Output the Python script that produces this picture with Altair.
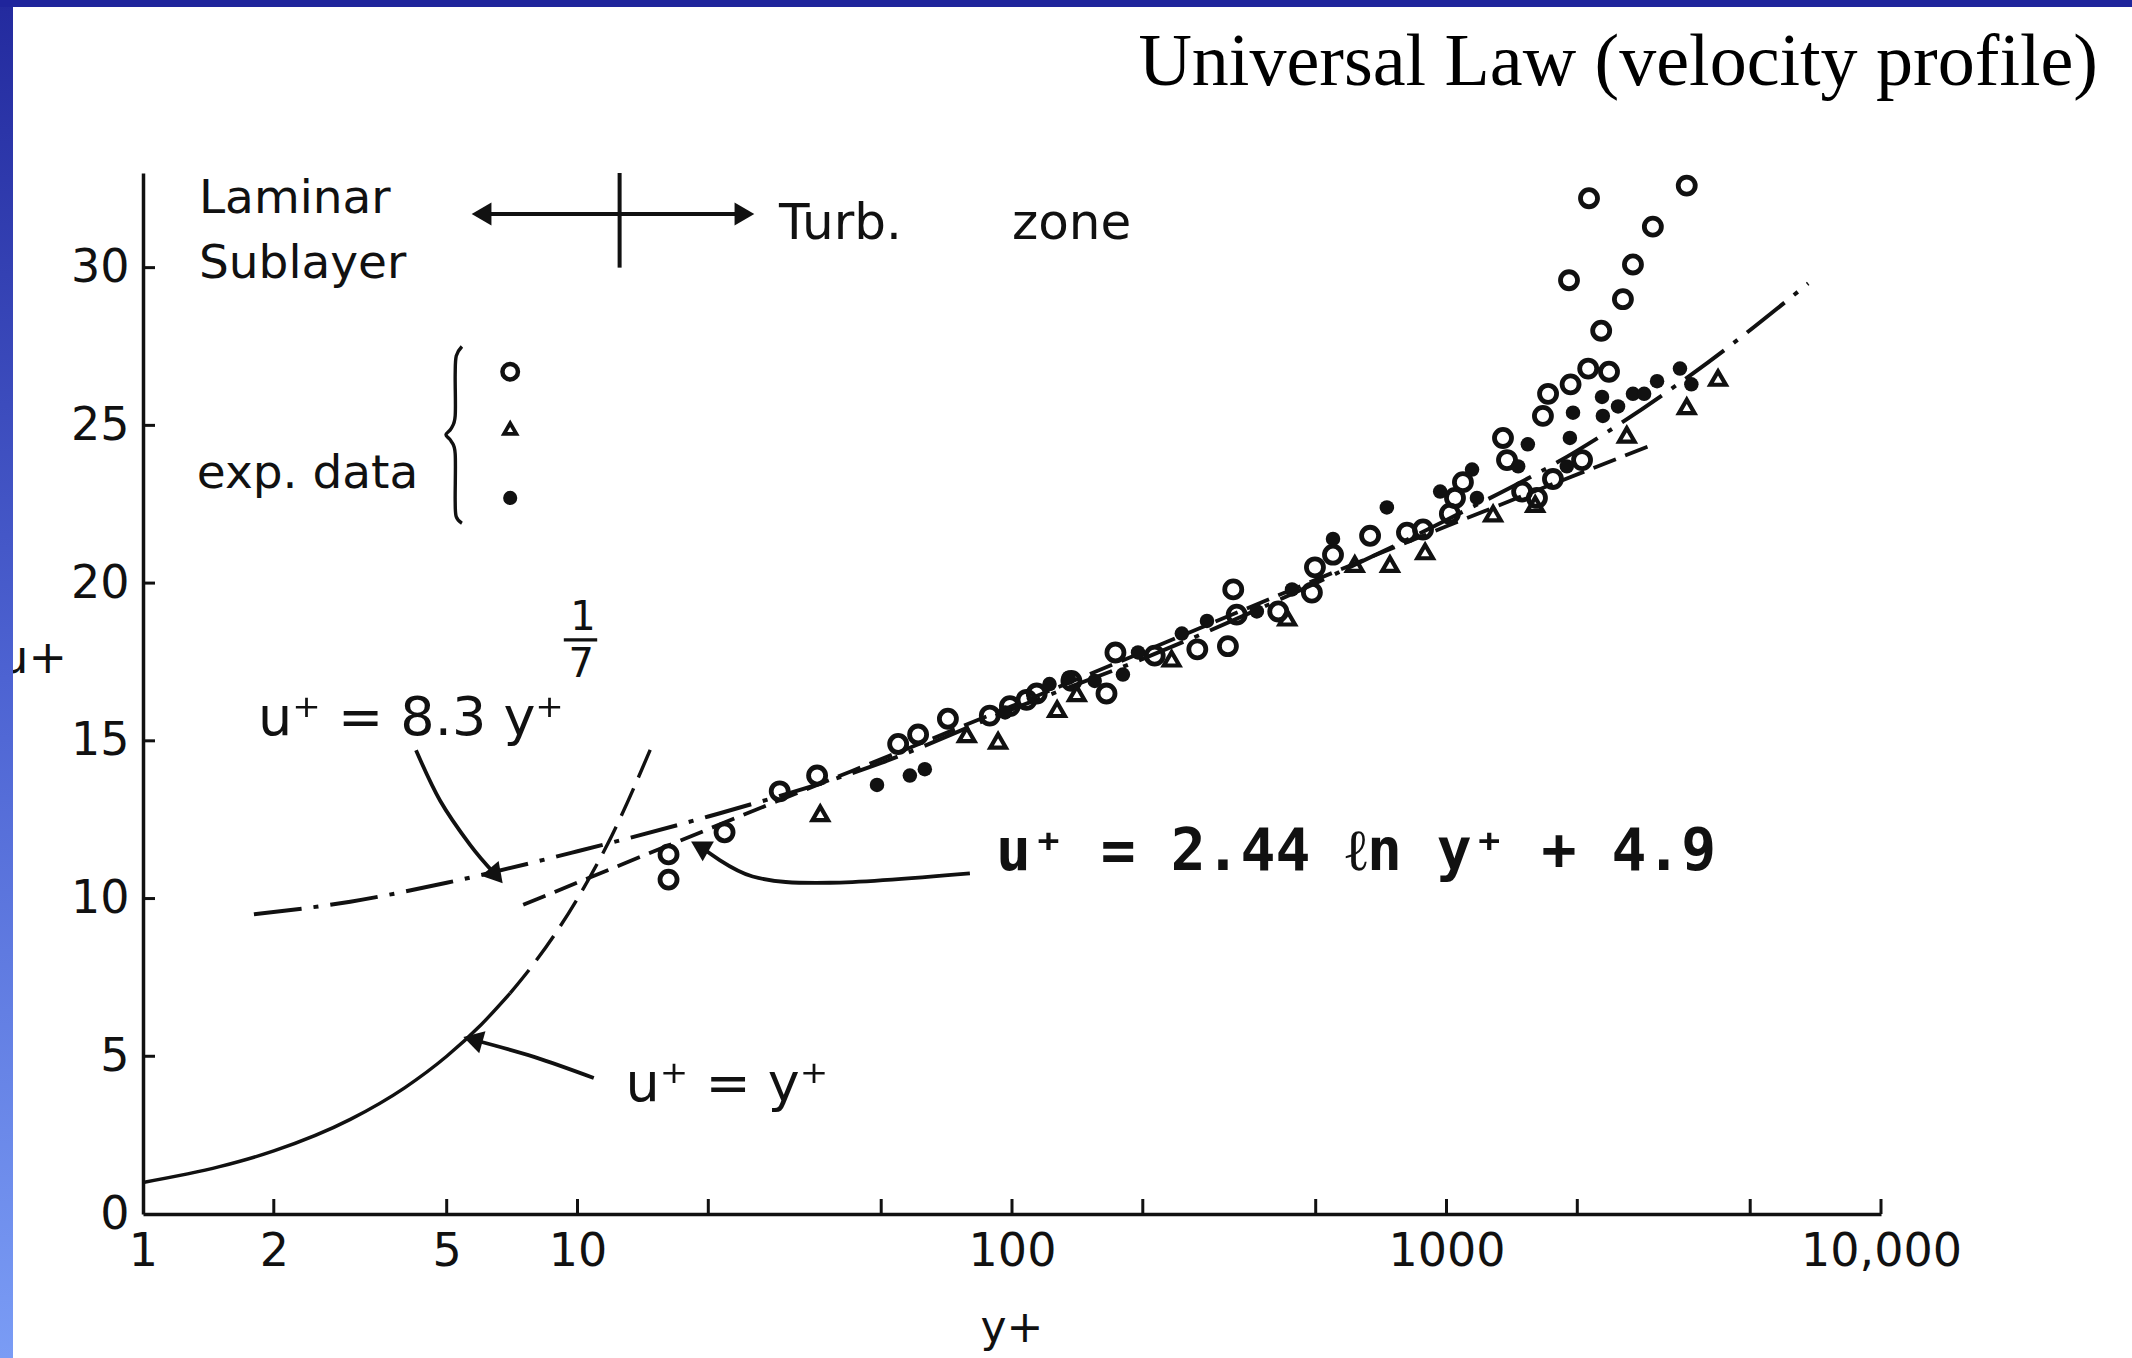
import math
import altair as alt
import pandas as pd

# ---------------------------------------------------------------------------
# Plot geometry
W, H = 1738, 1041
X_DOMAIN = [1, 10000]
Y_DOMAIN = [0, 33]

# ---------------------------------------------------------------------------
# Experimental data (y+, u+)
circle_yp = [16.2, 16.2, 21.8, 29.2, 35.6, 54.7, 60.8, 71.2, 88.9, 98.9,
             108, 114, 137, 165, 173, 213, 267, 314, 323, 329,
             410, 490, 498, 548, 667, 811, 883, 1018, 1046, 1091,
             1349, 1378, 1493, 1615, 1758, 2051, 1667, 1713, 1930, 2119,
             2366, 2270, 2547, 1914, 2686, 2985, 2128, 3572]
circle_up = [10.6, 11.4, 12.1, 13.4, 13.9, 14.9, 15.2, 15.7, 15.8, 16.1,
             16.3, 16.5, 16.9, 16.5, 17.8, 17.7, 17.9, 18.0, 19.8, 19.0,
             19.1, 19.7, 20.5, 20.9, 21.5, 21.6, 21.7, 22.2, 22.7, 23.2,
             24.6, 23.9, 22.9, 22.7, 23.3, 23.9, 25.3, 26.0, 26.3, 26.8,
             26.7, 28.0, 29.0, 29.6, 30.1, 31.3, 32.2, 32.6]

dot_yp = [48.9, 58.2, 63, 96.4, 122, 135, 155, 180, 195, 246,
          281, 366, 441, 548, 729, 967, 1145, 1175, 1462, 1539,
          1892, 1923, 1955, 2280, 2290, 2482, 2686, 2850, 3052, 3446, 3660]
dot_up = [13.6, 13.9, 14.1, 15.9, 16.8, 17.0, 16.9, 17.1, 17.8, 18.4,
          18.8, 19.1, 19.8, 21.4, 22.4, 22.9, 23.6, 22.7, 23.7, 24.4,
          23.7, 24.6, 25.4, 25.9, 25.3, 25.6, 26.0, 26.0, 26.4, 26.8, 26.3]

tri_yp = [36.2, 78.7, 92.9, 127, 141, 233, 430, 615, 741, 893,
          1280, 1600, 2600, 3572, 4217]
tri_up = [12.7, 15.2, 15.0, 16.0, 16.5, 17.6, 18.9, 20.6, 20.6, 21.0,
          22.2, 22.5, 24.7, 25.6, 26.5]

# ---------------------------------------------------------------------------
# Law curves (y+, u+)
lin_solid_yp = [1, 1.5, 2, 3, 4, 5, 6, 7]
lin_solid_up = [1, 1.5, 2, 3, 4, 5, 6, 7]
lin_dash_yp = [7, 8, 10, 12, 15]
lin_dash_up = [7, 8, 10, 12, 15]

power_yp = [1.8, 3, 5, 10, 20, 50, 100, 200, 500, 1000, 2000, 4000, 6800]
power_up = [9.5, 9.9, 10.5, 11.5, 12.6, 14.3, 16.0, 17.6, 20.0, 22.0, 24.2, 27.0, 29.5]

log_yp = [7.5, 20, 100, 1000, 3000]
log_up = [9.8, 12.2, 16.1, 21.8, 24.4]

# ---------------------------------------------------------------------------
# Axis ticks and labels
x_label_values = [1, 2, 5, 10, 100, 1000, 10000]
x_tick_values = [2, 5, 10, 20, 50, 100, 200, 500, 1000, 2000, 5000, 10000]
y_label_values = [0, 5, 10, 15, 20, 25, 30]
y_tick_values = [5, 10, 15, 20, 25, 30]

# ---------------------------------------------------------------------------
# Annotations
region_yp = [1.345, 1.345, 1.33]
region_up = [31.73, 29.67, 23.0]
region_txt = ["Laminar", "Sublayer", "exp. data"]
zone_txt_yp = [29.1, 100]
zone_txt_up = [30.9, 30.9]
zone_txt = ["Turb.", "zone"]

# legend symbols next to the brace
legend_yp = [7.0, 7.0, 7.0]
legend_up = [26.7, 24.9, 22.7]

brace_yp = [5.42, 5.26, 5.23, 5.23, 5.12, 4.98, 5.12, 5.23, 5.23, 5.26, 5.42]
brace_up = [27.5, 27.2, 26.6, 25.3, 24.9, 24.7, 24.5, 24.1, 22.6, 22.1, 21.9]

# zone divider: horizontal double arrow and vertical bar
zone_arrow_yp = [6.12, 23.8]
zone_arrow_u = 31.7
zone_bar_yp = 12.5
zone_bar_up = [30.0, 33.0]

# pointer arrows from the equation labels to their curves
arrow_power_yp = [4.25, 4.83, 5.66, 6.43]
arrow_power_up = [14.7, 13.1, 11.7, 10.8]
arrow_log_yp = [80, 38.1, 25.3, 19.4]
arrow_log_up = [10.8, 10.5, 10.7, 11.6]
arrow_lin_yp = [10.9, 7.94, 5.84]
arrow_lin_up = [4.31, 4.98, 5.5]

eq_power = ("u\u207a = 8.3 y\u207a", 1.84, 15.2)
eq_power_frac = [("1", 10.3, 18.9), ("7", 10.2, 17.4)]
eq_power_bar_yp = [9.3, 11.1]
eq_power_bar_u = 18.2
eq_log = ("u\u207a = 2.44 \u2113n y\u207a + 4.9", 91.9, 10.9)
eq_lin = ("u\u207a =  y\u207a", 12.9, 3.58)

TITLE = "Universal Law (velocity profile)"

# ---------------------------------------------------------------------------
INK = "#111111"
SANS = "DejaVu Sans"

xscale = alt.Scale(type="log", domain=X_DOMAIN, nice=False)
yscale = alt.Scale(domain=Y_DOMAIN, nice=False, zero=False)

xaxis = alt.Axis(values=x_label_values, title=None, ticks=False, grid=False,
                 domainColor=INK, domainWidth=3.5, labelFont=SANS,
                 labelFontSize=46, labelColor=INK, labelPadding=15,
                 labelFlush=False, labelOverlap=False, labelBound=False,
                 labelExpr="datum.value >= 10000 ? '10,000' : format(datum.value, 'd')")
yaxis = alt.Axis(values=y_label_values, title=None, ticks=False, grid=False,
                 domainColor=INK, domainWidth=3.5, labelFont=SANS,
                 labelFontSize=46, labelColor=INK, labelPadding=14,
                 labelFlush=False, labelOverlap=False, format="d")

X = alt.X("yp:Q", scale=xscale, axis=xaxis)
Y = alt.Y("up:Q", scale=yscale, axis=yaxis)


def frame(yp, up, **extra):
    d = {"yp": yp, "up": up}
    d.update(extra)
    return pd.DataFrame(d)


def curve(yp, up, dash=None, width=3.5, interp="monotone"):
    df = frame(yp, up, i=list(range(len(yp))))
    kw = dict(color=INK, strokeWidth=width, interpolate=interp,
              strokeCap="butt")
    if dash:
        kw["strokeDash"] = dash
    return alt.Chart(df).mark_line(**kw).encode(x=X, y=Y, order="i:Q")


def px(yp):
    return math.log10(yp) / 4.0 * W


def py(up):
    return H - up / Y_DOMAIN[1] * H


def head_angle(yp, up):
    dx = px(yp[-1]) - px(yp[-2])
    dy = py(up[-1]) - py(up[-2])
    return math.degrees(math.atan2(dx, -dy)) % 360


def texts(rows, size, font=SANS, align="left", baseline="alphabetic",
          weight="normal"):
    df = pd.DataFrame({"t": [r[0] for r in rows],
                       "yp": [r[1] for r in rows],
                       "up": [r[2] for r in rows]})
    return alt.Chart(df).mark_text(
        font=font, fontSize=size, align=align, baseline=baseline,
        fontWeight=weight, color=INK
    ).encode(x=X, y=Y, text="t:N")


def head(yp, up, angle, size=520):
    return alt.Chart(frame([yp], [up])).mark_point(
        shape="triangle", filled=True, color=INK, size=size, opacity=1,
        angle=round(angle, 1), strokeWidth=0
    ).encode(x=X, y=Y)


layers = []

# law curves
layers.append(curve(lin_solid_yp, lin_solid_up, width=3.4))
layers.append(curve(lin_dash_yp, lin_dash_up, dash=[30, 12], width=3.4))
layers.append(curve(power_yp, power_up, dash=[48, 12, 5, 12], width=4))
layers.append(curve(log_yp, log_up, dash=[24, 10], width=3.8))

# inward ticks
xt = pd.DataFrame({"yp": x_tick_values})
layers.append(alt.Chart(xt).mark_rule(color=INK, strokeWidth=3).encode(
    x=X, y=alt.value(H), y2=alt.value(H - 15)))
yt = pd.DataFrame({"up": y_tick_values})
layers.append(alt.Chart(yt).mark_rule(color=INK, strokeWidth=3).encode(
    y=Y, x=alt.value(0), x2=alt.value(12)))

# experimental points
layers.append(alt.Chart(frame(circle_yp, circle_up)).mark_point(
    shape="circle", filled=False, color=INK, strokeWidth=4.8, size=290, opacity=1
).encode(x=X, y=Y))
layers.append(alt.Chart(frame(tri_yp, tri_up)).mark_point(
    shape="triangle-up", filled=False, color=INK, strokeWidth=4.2, size=240, opacity=1
).encode(x=X, y=Y))
layers.append(alt.Chart(frame(dot_yp, dot_up)).mark_point(
    shape="circle", filled=True, color=INK, size=210, opacity=1
).encode(x=X, y=Y))

# legend symbols
layers.append(alt.Chart(frame(legend_yp[:1], legend_up[:1])).mark_point(
    shape="circle", filled=False, color=INK, strokeWidth=4.5, size=240, opacity=1
).encode(x=X, y=Y))
layers.append(alt.Chart(frame(legend_yp[1:2], legend_up[1:2])).mark_point(
    shape="triangle-up", filled=False, color=INK, strokeWidth=3.8, size=150, opacity=1
).encode(x=X, y=Y))
layers.append(alt.Chart(frame(legend_yp[2:], legend_up[2:])).mark_point(
    shape="circle", filled=True, color=INK, size=200, opacity=1
).encode(x=X, y=Y))

# brace
layers.append(curve(brace_yp, brace_up, width=3.4, interp="cardinal"))

# zone divider
layers.append(curve(zone_arrow_yp, [zone_arrow_u] * 2, width=4, interp="linear"))
layers.append(curve([zone_bar_yp] * 2, zone_bar_up, width=4, interp="linear"))
layers.append(head(zone_arrow_yp[0], zone_arrow_u, 270))
layers.append(head(zone_arrow_yp[1], zone_arrow_u, 90))

# pointer arrows
for ayp, aup in [(arrow_power_yp, arrow_power_up),
                 (arrow_log_yp, arrow_log_up),
                 (arrow_lin_yp, arrow_lin_up)]:
    layers.append(curve(ayp, aup, width=3.8, interp="cardinal"))
    layers.append(head(ayp[-1], aup[-1], head_angle(ayp, aup)))

# region labels
layers.append(texts(list(zip(region_txt, region_yp, region_up)), 47))
layers.append(texts(list(zip(zone_txt, zone_txt_yp, zone_txt_up)), 50))

# equations
layers.append(texts([eq_power], 54))
layers.append(texts(eq_power_frac, 40, align="center", baseline="middle"))
layers.append(curve(eq_power_bar_yp, [eq_power_bar_u] * 2, width=3.4, interp="linear"))
layers.append(texts([eq_log], 58, font="DejaVu Sans Mono", weight="bold"))
layers.append(texts([eq_lin], 54))

# axis titles and heading
one = pd.DataFrame({"t": [""]})
layers.append(alt.Chart(one).mark_text(
    text="y+", font=SANS, fontSize=44, align="center", baseline="alphabetic",
    color=INK).encode(x=alt.value(W / 2), y=alt.value(H + 128)))
layers.append(alt.Chart(one).mark_text(
    text="u+", font=SANS, fontSize=46, align="right", baseline="alphabetic",
    color=INK).encode(x=alt.value(-76), y=alt.value(500)))
layers.append(alt.Chart(one).mark_text(
    text=TITLE, font="Liberation Serif", fontSize=74, align="right",
    baseline="alphabetic", color="#000000").encode(
    x=alt.value(1955), y=alt.value(-88)))

# slide frame: dark band on top, gradient band on the left
band = alt.Gradient(gradient="linear", x1=0, x2=0, y1=0, y2=1,
                    stops=[alt.GradientStop(color="#232a9e", offset=0),
                           alt.GradientStop(color="#4d63d2", offset=0.5),
                           alt.GradientStop(color="#7a9cf5", offset=1)])
layers.append(alt.Chart(one).mark_rect(color=band).encode(
    x=alt.value(-143), x2=alt.value(-130), y=alt.value(-173), y2=alt.value(H + 144)))
layers.append(alt.Chart(one).mark_rect(color="#1f259c").encode(
    x=alt.value(-143), x2=alt.value(W + 251), y=alt.value(-173), y2=alt.value(-166)))

chart = alt.layer(*layers).properties(
    width=W, height=H,
    padding={"left": 143, "top": 173, "right": 251, "bottom": 144},
    autosize=alt.AutoSizeParams(type="none"),
    background="white",
).configure_view(stroke=None)

chart.save("out.html", embed_options={"renderer": "svg", "actions": False})
